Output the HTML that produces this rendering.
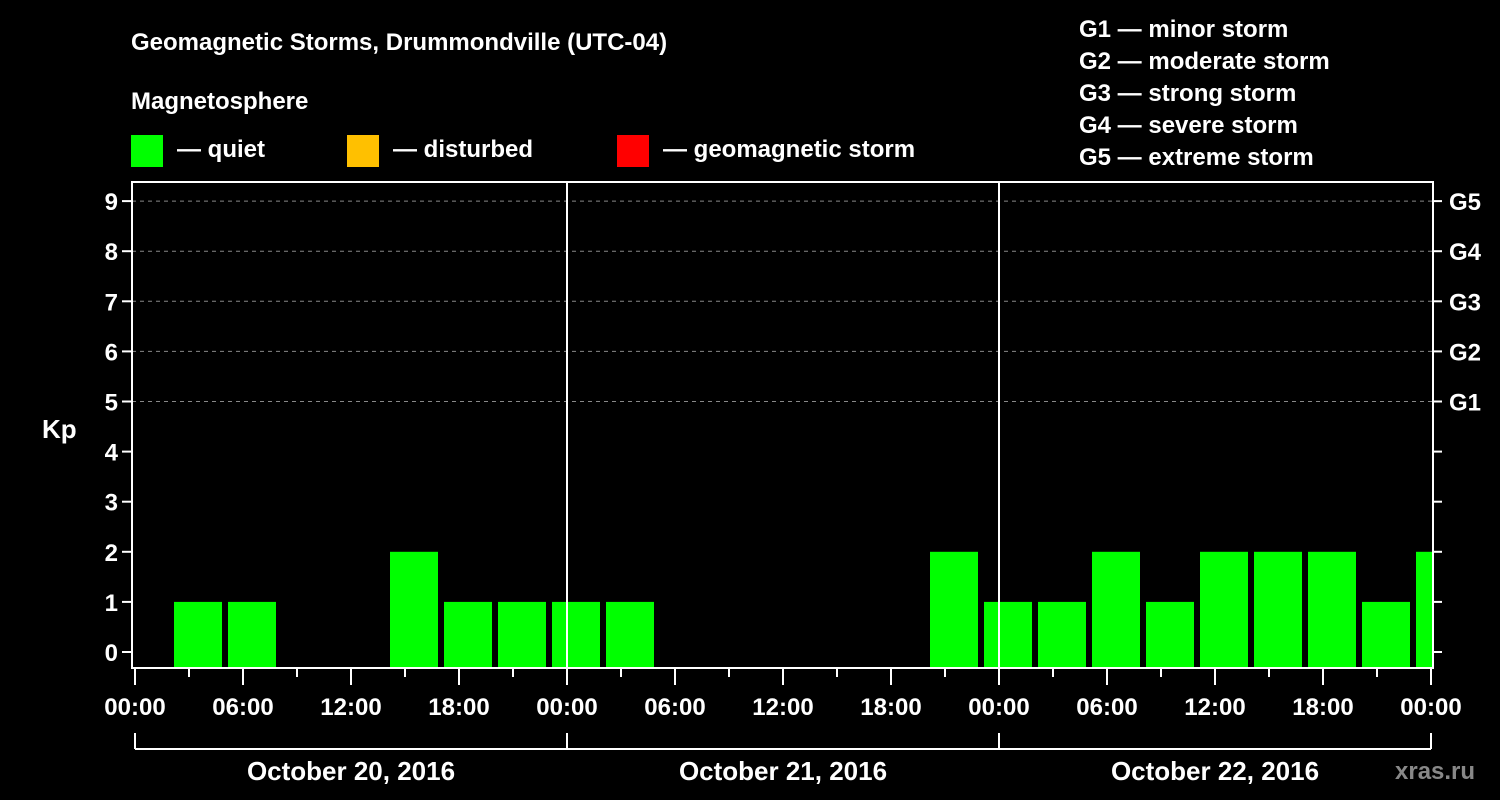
<!DOCTYPE html>
<html><head><meta charset="utf-8"><style>
body{margin:0;background:#000;width:1500px;height:800px;overflow:hidden}
svg{display:block;font-family:"Liberation Sans",sans-serif;font-weight:bold;fill:#fff}
</style></head><body>
<svg id="c" width="1500" height="800">
<text x="131" y="50" font-size="24">Geomagnetic Storms, Drummondville (UTC-04)</text>
<text x="131" y="109" font-size="24">Magnetosphere</text>
<g><rect x="131" y="135" width="32" height="32" fill="#00ff00"/><text x="177" y="157" font-size="24">— quiet</text></g>
<g><rect x="347" y="135" width="32" height="32" fill="#ffc000"/><text x="393" y="157" font-size="24">— disturbed</text></g>
<g><rect x="617" y="135" width="32" height="32" fill="#ff0000"/><text x="663" y="157" font-size="24">— geomagnetic storm</text></g>
<g font-size="24">
<text x="1079" y="37">G1 — minor storm</text>
<text x="1079" y="69">G2 — moderate storm</text>
<text x="1079" y="101">G3 — strong storm</text>
<text x="1079" y="133">G4 — severe storm</text>
<text x="1079" y="165">G5 — extreme storm</text>
</g>
<text x="42" y="438" font-size="26">Kp</text>
<text x="1395" y="779" font-size="24" fill="#888" style="fill:#888">xras.ru</text>
<g id="plot"></g>
</svg>
<script>
const kpValues=[0,1,1,0,0,2,1,1,1,1,0,0,0,0,0,2,1,1,2,1,2,2,2,1,2];
const dayLabels=["October 20, 2016","October 21, 2016","October 22, 2016"];
const hourLabels=["00:00","06:00","12:00","18:00"];
const gLabels=["G1","G2","G3","G4","G5"];
const NS="http://www.w3.org/2000/svg";
const L=132,R=1433,T=182,B=668,X0=135,PXH=18;
const y=v=>652-50.1*v;
const x=h=>X0+h*PXH;
const slotStart=-0.8333;
const g=document.getElementById('plot');
function mk(t,a){const e=document.createElementNS(NS,t);for(const k in a)e.setAttribute(k,a[k]);g.appendChild(e);return e;}
// grid
for(let v=5;v<=9;v++){const e=mk('line',{x1:L,x2:R,y1:y(v),y2:y(v),stroke:'#888','stroke-dasharray':'4,4','stroke-width':1});

}
// bars
kpValues.forEach((v,k)=>{if(v<=0)return;
const x1=Math.max(L,x(slotStart+3*k)),x2=Math.min(R-1,x(slotStart+3*k)+48);
const c=v>=5?'#ff0000':(v>=4?'#ffc000':'#00ff00');
const e=mk('rect',{x:x1,y:y(v),width:x2-x1,height:B-y(v),fill:c});

});
// day separators
for(let d=1;d<3;d++){const e=mk('line',{x1:x(24*d),x2:x(24*d),y1:T,y2:B,stroke:'#fff','stroke-width':2});

}
// frame
const fr=mk('rect',{x:L,y:T,width:R-L,height:B-T,fill:'none',stroke:'#fff','stroke-width':2});


// y ticks
for(let v=0;v<=9;v++){
mk('line',{x1:L-10,x2:L,y1:y(v),y2:y(v),stroke:'#fff','stroke-width':2});
mk('line',{x1:R,x2:R+9,y1:y(v),y2:y(v),stroke:'#fff','stroke-width':2});
const t=mk('text',{x:L-14,y:y(v)+9,'font-size':24,'text-anchor':'end'});t.textContent=v;

}
gLabels.forEach((s,i)=>{const t=mk('text',{x:R+16,y:y(5+i)+9,'font-size':24});t.textContent=s;

});
// x ticks
for(let h=0;h<=72;h+=3){const maj=h%6===0;
mk('line',{x1:x(h),x2:x(h),y1:B,y2:B+(maj?17:9),stroke:'#fff','stroke-width':2});
if(maj){const t=mk('text',{x:x(h),y:B+47,'font-size':24,'text-anchor':'middle'});t.textContent=hourLabels[(h/6)%4];

}}
// day bracket
mk('line',{x1:x(0),x2:x(72),y1:749,y2:749,stroke:'#fff','stroke-width':2});
for(let d=0;d<=3;d++)mk('line',{x1:x(24*d),x2:x(24*d),y1:733,y2:749,stroke:'#fff','stroke-width':2});
dayLabels.forEach((s,d)=>{const t=mk('text',{x:x(24*d+12),y:780,'font-size':26,'text-anchor':'middle'});t.textContent=s;

});
</script>
</body></html>
